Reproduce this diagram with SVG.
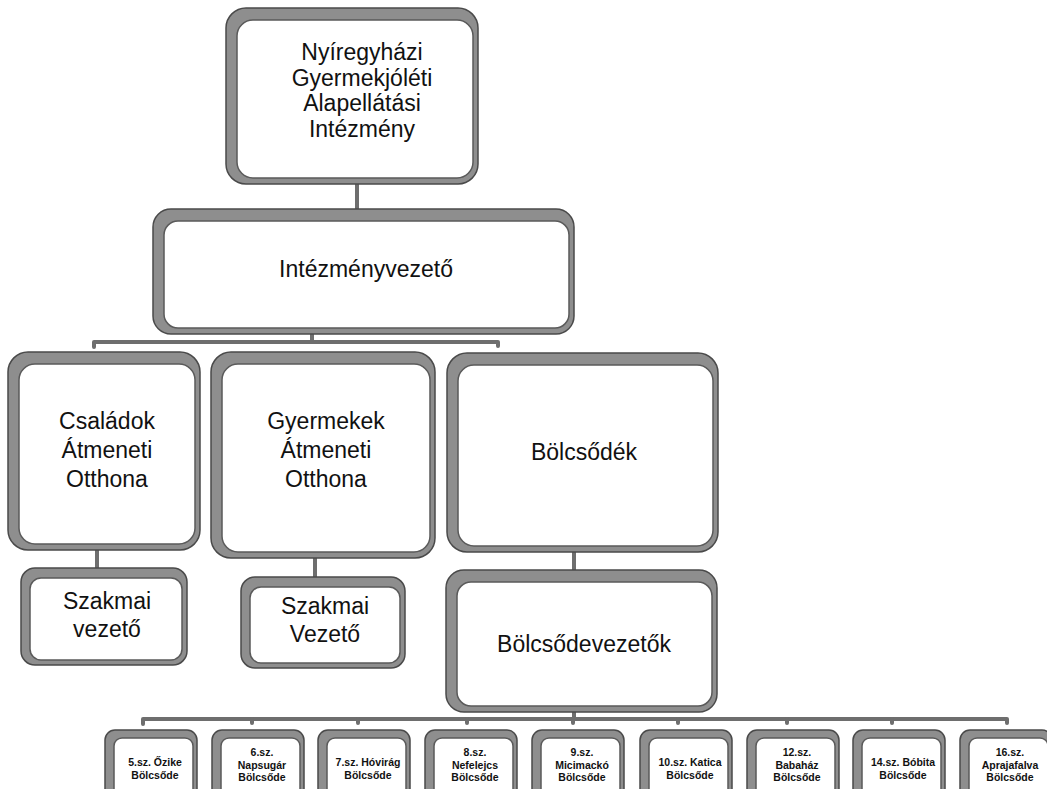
<svg xmlns="http://www.w3.org/2000/svg" width="1047" height="789" viewBox="0 0 1047 789">
<style>
.outer{fill:#8e8e8e;stroke:#4a4a4a;stroke-width:1.5}
.inner{fill:#fff;stroke:#5a5a5a;stroke-width:1.5}
.t{font-family:"Liberation Sans","Open Sans",sans-serif;font-size:23px;fill:#111;text-anchor:middle}
.s{font-family:"Liberation Sans","Open Sans",sans-serif;font-size:10.5px;font-weight:bold;fill:#111;text-anchor:middle}
.c{fill:none;stroke:#6e6e6e;stroke-width:4;stroke-linecap:round;stroke-linejoin:round}
</style>
<rect width="1047" height="789" fill="#fff"/>
<g id="connectors">
  <line class="c" x1="357" y1="184" x2="357" y2="209"/>
  <line class="c" x1="312" y1="334" x2="312" y2="342"/>
  <path class="c" d="M94,347 L94,342 L498,342 L498,346"/>
  <line class="c" x1="97" y1="550" x2="97" y2="568"/>
  <line class="c" x1="315" y1="558" x2="315" y2="577"/>
  <line class="c" x1="574" y1="552" x2="574" y2="570"/>
  <line class="c" x1="574" y1="712" x2="574" y2="719"/>
  <path class="c" d="M143,724 L143,719 L1007,719 L1007,723"/>
  <path class="c" d="M252,719 v4 M358,719 v4 M467,719 v4 M573,719 v4 M678,719 v4 M787,719 v4 M892,719 v4"/>
</g>
<g id="n-intezmeny">
  <rect class="outer" x="226" y="8" width="252" height="176" rx="20"/>
  <rect class="inner" x="237" y="20" width="236" height="158" rx="16"/>
  <text class="t" x="362" y="60">Nyíregyházi</text>
  <text class="t" x="362" y="85.5">Gyermekjóléti</text>
  <text class="t" x="362" y="111">Alapellátási</text>
  <text class="t" x="362" y="136.5">Intézmény</text>
</g>
<g id="n-vezeto">
  <rect class="outer" x="153" y="209" width="421" height="125" rx="18"/>
  <rect class="inner" x="164" y="221" width="405" height="107" rx="14"/>
  <text class="t" x="366" y="277">Intézményvezető</text>
</g>
<g id="n-csaladok">
  <rect class="outer" x="8" y="352" width="192" height="198" rx="20"/>
  <rect class="inner" x="19" y="364" width="176" height="180" rx="16"/>
  <text class="t" x="107" y="429">Családok</text>
  <text class="t" x="107" y="458">Átmeneti</text>
  <text class="t" x="107" y="487">Otthona</text>
</g>
<g id="n-gyermekek">
  <rect class="outer" x="211" y="352" width="224" height="206" rx="20"/>
  <rect class="inner" x="222" y="364" width="208" height="188" rx="16"/>
  <text class="t" x="326" y="429">Gyermekek</text>
  <text class="t" x="326" y="458">Átmeneti</text>
  <text class="t" x="326" y="487">Otthona</text>
</g>
<g id="n-bolcsodek">
  <rect class="outer" x="447" y="353" width="271" height="199" rx="20"/>
  <rect class="inner" x="458" y="365" width="255" height="181" rx="16"/>
  <text class="t" x="584" y="460">Bölcsődék</text>
</g>
<g id="n-szakmai1">
  <rect class="outer" x="21" y="568" width="166" height="97" rx="14"/>
  <rect class="inner" x="30" y="578" width="152" height="82" rx="11"/>
  <text class="t" x="107" y="609">Szakmai</text>
  <text class="t" x="107" y="637">vezető</text>
</g>
<g id="n-szakmai2">
  <rect class="outer" x="241" y="577" width="164" height="91" rx="14"/>
  <rect class="inner" x="250" y="587" width="150" height="76" rx="11"/>
  <text class="t" x="325" y="614">Szakmai</text>
  <text class="t" x="325" y="642">Vezető</text>
</g>
<g id="n-bolcsodevezetok">
  <rect class="outer" x="446" y="570" width="271" height="142" rx="18"/>
  <rect class="inner" x="457" y="582" width="255" height="124" rx="14"/>
  <text class="t" x="584" y="652">Bölcsődevezetők</text>
</g>
<g id="b5">
  <rect class="outer" x="105" y="730" width="92" height="80" rx="10"/>
  <rect class="inner" x="114" y="738" width="79" height="70" rx="8"/>
  <text class="s" x="155" y="766">5.sz. Őzike</text>
  <text class="s" x="155" y="779">Bölcsőde</text>
</g>
<g id="b6">
  <rect class="outer" x="212" y="730" width="92" height="80" rx="10"/>
  <rect class="inner" x="221" y="738" width="79" height="70" rx="8"/>
  <text class="s" x="262" y="756">6.sz.</text>
  <text class="s" x="262" y="768.5">Napsugár</text>
  <text class="s" x="262" y="781">Bölcsőde</text>
</g>
<g id="b7">
  <rect class="outer" x="318" y="730" width="92" height="80" rx="10"/>
  <rect class="inner" x="327" y="738" width="79" height="70" rx="8"/>
  <text class="s" x="368" y="766">7.sz. Hóvirág</text>
  <text class="s" x="368" y="779">Bölcsőde</text>
</g>
<g id="b8">
  <rect class="outer" x="425" y="730" width="92" height="80" rx="10"/>
  <rect class="inner" x="434" y="738" width="79" height="70" rx="8"/>
  <text class="s" x="475" y="756">8.sz.</text>
  <text class="s" x="475" y="768.5">Nefelejcs</text>
  <text class="s" x="475" y="781">Bölcsőde</text>
</g>
<g id="b9">
  <rect class="outer" x="532" y="730" width="92" height="80" rx="10"/>
  <rect class="inner" x="541" y="738" width="79" height="70" rx="8"/>
  <text class="s" x="582" y="756">9.sz.</text>
  <text class="s" x="582" y="768.5">Micimackó</text>
  <text class="s" x="582" y="781">Bölcsőde</text>
</g>
<g id="b10">
  <rect class="outer" x="640" y="730" width="92" height="80" rx="10"/>
  <rect class="inner" x="649" y="738" width="79" height="70" rx="8"/>
  <text class="s" x="690" y="766">10.sz.  Katica</text>
  <text class="s" x="690" y="779">Bölcsőde</text>
</g>
<g id="b12">
  <rect class="outer" x="747" y="730" width="92" height="80" rx="10"/>
  <rect class="inner" x="756" y="738" width="79" height="70" rx="8"/>
  <text class="s" x="797" y="756">12.sz.</text>
  <text class="s" x="797" y="768.5">Babaház</text>
  <text class="s" x="797" y="781">Bölcsőde</text>
</g>
<g id="b14">
  <rect class="outer" x="853" y="730" width="92" height="80" rx="10"/>
  <rect class="inner" x="862" y="738" width="79" height="70" rx="8"/>
  <text class="s" x="903" y="766">14.sz. Bóbita</text>
  <text class="s" x="903" y="779">Bölcsőde</text>
</g>
<g id="b16">
  <rect class="outer" x="960" y="730" width="92" height="80" rx="10"/>
  <rect class="inner" x="969" y="738" width="79" height="70" rx="8"/>
  <text class="s" x="1010" y="756">16.sz.</text>
  <text class="s" x="1010" y="768.5">Aprajafalva</text>
  <text class="s" x="1010" y="781">Bölcsőde</text>
</g>
</svg>
